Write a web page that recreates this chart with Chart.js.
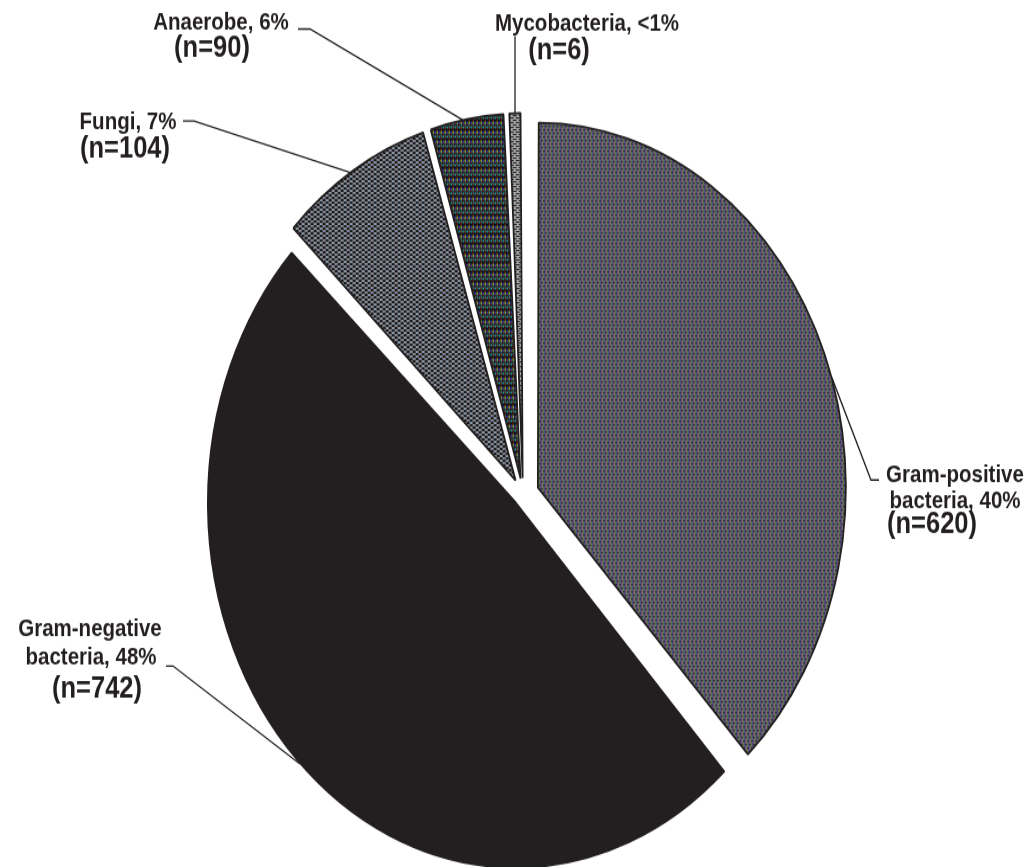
<!DOCTYPE html>
<html>
<head>
<meta charset="utf-8">
<script src="https://cdn.jsdelivr.net/npm/chart.js@4.4.1/dist/chart.umd.min.js"></script>
<style>
  html, body { margin: 0; padding: 0; background: #fff; }
</style>
</head>
<body>
<canvas id="c" width="1034" height="732" style="display:block;width:1034px;height:867px;"></canvas>
<script>
// Data
const categories = ['Gram-positive bacteria', 'Gram-negative bacteria', 'Fungi', 'Anaerobe', 'Mycobacteria'];
const counts = [620, 742, 104, 90, 6];
const pctLabels = ['40%', '48%', '7%', '6%', '<1%'];
// slice sizes as they are drawn in the picture (share of the circle, %)
const sliceShares = [38.1, 49.0, 8.1, 4.0, 0.8];

// the original figure is stretched vertically, so draw in a shorter canvas and stretch it with css
const SY = 867 / 732;
const INK = '#231f20';

// label placement in page pixels: [text line index -> x, baseline]
const labelPos = [
    [[955, 482], [955, 508], [932, 533]],
    [[90, 636], [91, 665], [97, 698]],
    [[128, 129], [125, 157]],
    [[221, 30], [212, 57]],
    [[587, 31], [559, 59]]
];
const leaders = [
    [[832, 378], [871, 480], [879, 480]],
    [[166, 666], [173, 666], [300, 764]],
    [[183, 121], [194, 121], [352, 173]],
    [[298, 29], [310, 29], [463, 120]],
    [[515, 36], [515, 114]]
];

function labelLines(i) {
    const words = categories[i].split(' ');
    let lines;
    if (words.length > 1) {
        lines = [words[0], words.slice(1).join(' ') + ', ' + pctLabels[i]];
    } else {
        lines = [categories[i] + ', ' + pctLabels[i]];
    }
    lines.push('(n=' + counts[i] + ')');
    return lines;
}

// fill patterns
const mainCtx = document.getElementById('c').getContext('2d');
function makePattern(w, h, paint) {
    const t = document.createElement('canvas');
    t.width = w; t.height = h;
    const g = t.getContext('2d');
    paint(g);
    return mainCtx.createPattern(t, 'repeat');
}
function px(g, color, x, y, w, h) {
    g.fillStyle = color;
    g.fillRect(x, y, w || 1, h || 1);
}

const posFill = makePattern(4, 6, g => {
    const cols = ['#5f7442', '#4c5680', '#6c4676', '#72767a'];
    cols.forEach((c, i) => px(g, c, i, 0, 1, 6));
    px(g, '#262630', 0, 1);
    px(g, '#262630', 1, 1);
    px(g, '#262630', 2, 4);
    px(g, '#262630', 3, 4);
});
const fungiFill = makePattern(6, 4, g => {
    px(g, '#151515', 0, 0, 3, 2);
    px(g, '#a2a2a2', 3, 0, 3, 2);
    px(g, '#a2a2a2', 0, 2, 3, 2);
    px(g, '#151515', 3, 2, 3, 2);
    px(g, '#5a8fd0', 4, 1);
    px(g, '#3a3a9a', 1, 3);
});
const anaFill = makePattern(4, 8, g => {
    px(g, '#0c0c0c', 0, 0, 4, 8);
    px(g, '#3fe0e0', 1, 0, 1, 2);
    px(g, '#3a50ff', 1, 4, 1, 2);
    px(g, '#e04848', 1, 6, 1, 1);
    px(g, '#e8e040', 3, 4, 1, 2);
    px(g, '#e04848', 3, 2, 1, 1);
    px(g, '#40e0e0', 3, 6, 1, 1);
    px(g, '#f0f0f0', 3, 0, 1, 1);
});
const mycoFill = makePattern(6, 4, g => {
    px(g, '#a9a9a9', 0, 0, 6, 4);
    px(g, '#1a1a1a', 0, 1, 4, 1);
    px(g, '#1a1a1a', 3, 3, 3, 1);
    px(g, '#1a1a1a', 0, 3, 1, 1);
});

// Chart.js grows an offset arc's radius a little; take that back so all slices share one radius
const keepRadius = {
    id: 'keepRadius',
    afterDatasetsUpdate(chart) {
        chart.getDatasetMeta(0).data.forEach(arc => {
            const off = (arc.options.offset || 0) / 4;
            const fix = 1 - Math.sin(Math.min(Math.PI, arc.circumference));
            arc.outerRadius -= off * fix;
        });
    }
};

const labelPlugin = {
    id: 'labels',
    afterDraw(chart) {
        const ctx = chart.ctx;
        ctx.save();
        ctx.strokeStyle = INK;
        ctx.lineWidth = 1.3;
        leaders.forEach(pts => {
            ctx.beginPath();
            pts.forEach((p, k) => {
                if (k === 0) ctx.moveTo(p[0], p[1] / SY);
                else ctx.lineTo(p[0], p[1] / SY);
            });
            ctx.stroke();
        });
        ctx.fillStyle = INK;
        ctx.textAlign = 'center';
        ctx.textBaseline = 'alphabetic';
        categories.forEach((c, i) => {
            const lines = labelLines(i);
            lines.forEach((t, k) => {
                const big = k === lines.length - 1;
                ctx.font = big ? 'bold 25.5px "Liberation Sans", Arial, sans-serif'
                               : 'bold 20.5px "Liberation Sans", Arial, sans-serif';
                const p = labelPos[i][k];
                ctx.fillText(t, p[0], p[1] / SY);
            });
        });
        ctx.restore();
    }
};

new Chart(mainCtx, {
    type: 'pie',
    data: {
        labels: categories,
        datasets: [{
            data: sliceShares,
            backgroundColor: [posFill, INK, fungiFill, anaFill, mycoFill],
            borderColor: INK,
            borderWidth: 1.8,
            offset: [64, 40, 56, 55, 56],
            clip: false
        }]
    },
    options: {
        responsive: false,
        devicePixelRatio: 1,
        animation: false,
        events: [],
        radius: 308,
        layout: { padding: { left: 12, right: 0, top: 103, bottom: 0 } },
        plugins: {
            legend: { display: false },
            tooltip: { enabled: false }
        }
    },
    plugins: [keepRadius, labelPlugin]
});
</script>
</body>
</html>
